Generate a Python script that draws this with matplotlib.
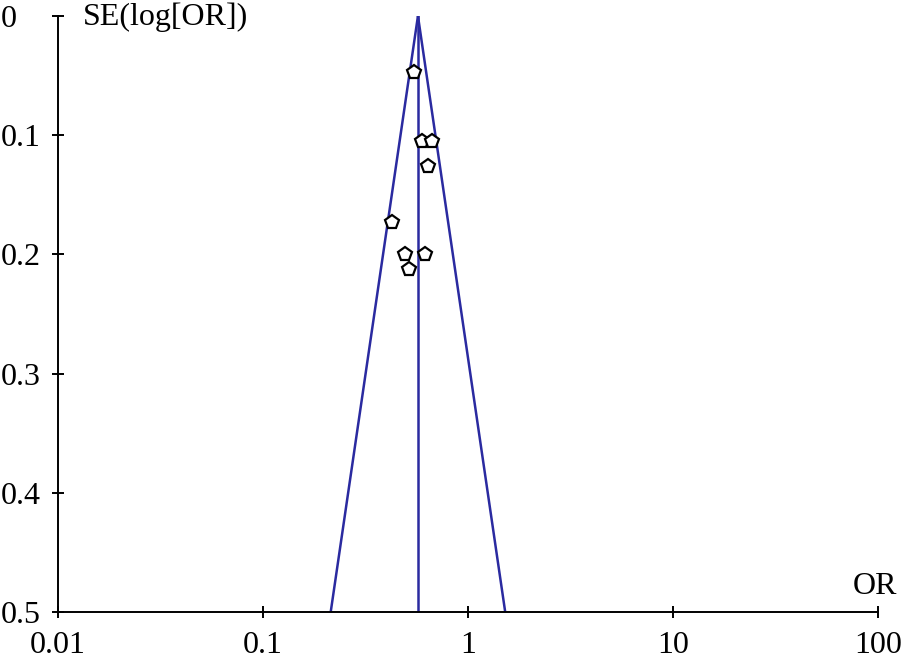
import numpy as np
import matplotlib
matplotlib.use("Agg")
import matplotlib.pyplot as plt

# study estimates
odds_ratio = [0.546, 0.597, 0.667, 0.638, 0.426, 0.493, 0.617, 0.515]
se_log_or = [0.047, 0.105, 0.105, 0.126, 0.173, 0.200, 0.200, 0.212]
pooled_or = 0.570

x_ticks = [0.01, 0.1, 1, 10, 100]
x_labels = ["0.01", "0.1", "1", "10", "100"]
y_ticks = [0, 0.1, 0.2, 0.3, 0.4, 0.5]
y_labels = ["0", "0.1", "0.2", "0.3", "0.4", "0.5"]

plt.rcParams["font.family"] = ["Liberation Serif", "DejaVu Serif"]
font_size = 23

fig = plt.figure(figsize=(9.04, 6.62), dpi=100)
ax = fig.add_axes([58 / 904, 50 / 662, 820 / 904, 596 / 662])

line_color = "#2a2aa0"

# funnel: pooled estimate +/- 1.96 SE on the log scale
se_max = y_ticks[-1]
se_line = np.array([0, se_max])
log_pooled = np.log(pooled_or)
ax.plot(np.exp(log_pooled - 1.96 * se_line), se_line, color=line_color, lw=1.8)
ax.plot(np.exp(log_pooled + 1.96 * se_line), se_line, color=line_color, lw=1.8)
ax.plot([pooled_or, pooled_or], se_line, color=line_color, lw=1.8)

ax.plot(odds_ratio, se_log_or, linestyle="none", marker="p", markersize=10,
        markerfacecolor="white", markeredgecolor="black", markeredgewidth=1.6)

ax.set_xscale("log")
ax.set_xlim(x_ticks[0], x_ticks[-1])
ax.set_ylim(se_max, 0)
ax.set_xticks(x_ticks)
ax.set_xticklabels(x_labels)
ax.xaxis.set_minor_locator(matplotlib.ticker.NullLocator())
ax.set_yticks(y_ticks)
ax.set_yticklabels(y_labels)

for s in ["top", "right"]:
    ax.spines[s].set_visible(False)
for s in ["left", "bottom"]:
    ax.spines[s].set_linewidth(1.4)

ax.tick_params(axis="both", direction="inout", length=8, width=1.4, labelsize=font_size)
ax.tick_params(axis="x", pad=10)
ax.tick_params(axis="y", pad=37)
for lbl in ax.get_yticklabels():
    lbl.set_horizontalalignment("left")

fig.text(83 / 904, 1 - 17 / 662, "SE(log[OR])", fontsize=font_size, ha="left", va="center")
fig.text(897 / 904, 1 - 586 / 662, "OR", fontsize=font_size, ha="right", va="center")

fig.savefig("out.png", dpi=100)
